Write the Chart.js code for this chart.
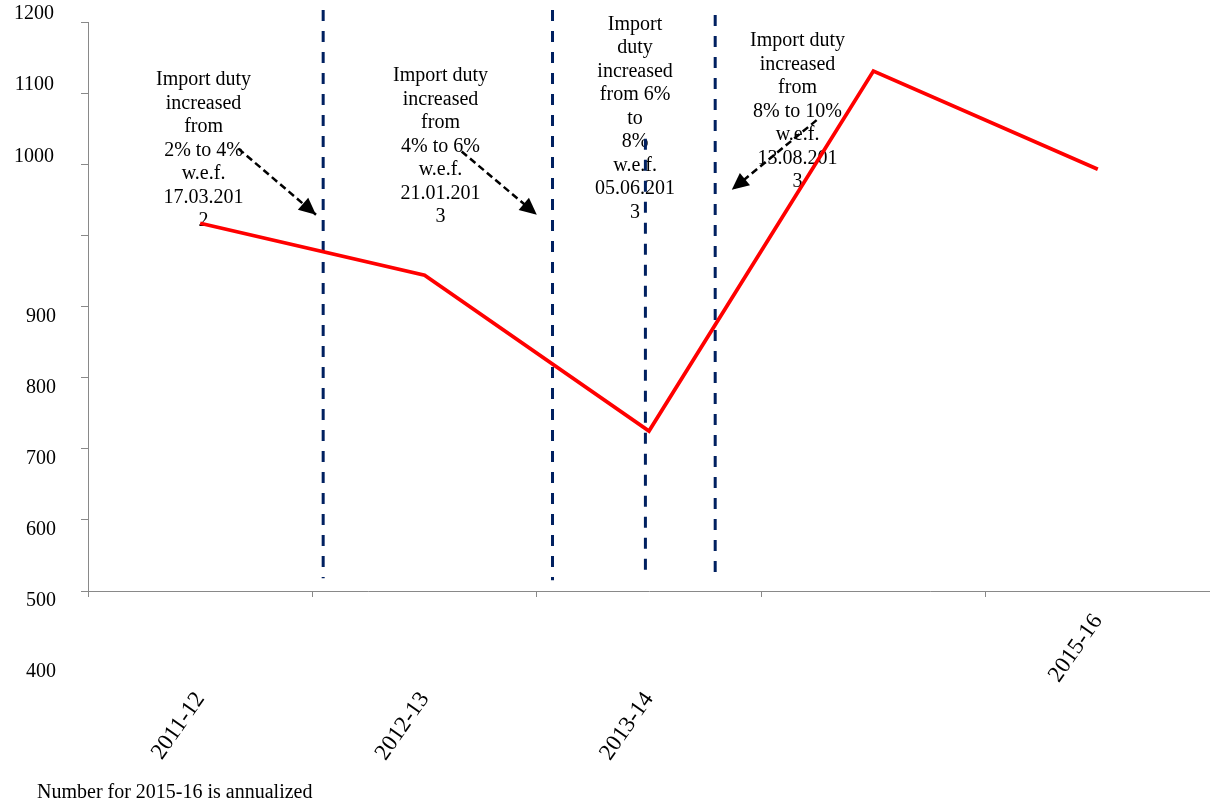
<!DOCTYPE html>
<html>
<head>
<meta charset="utf-8">
<script src="https://cdn.jsdelivr.net/npm/chart.js@4/dist/chart.umd.min.js"></script>
<style>
  html, body { margin: 0; padding: 0; background: #ffffff; }
  #wrap { width: 1210px; height: 806px; }
</style>
</head>
<body>
<div id="wrap"><canvas id="c" width="1210" height="806"></canvas></div>
<script>
// ---------------- data ----------------
const categories = ['2011-12', '2012-13', '2013-14', '2014-15', '2015-16'];
const importValues = [1017, 944, 725, 1231, 1093];
const xTickLabels = ['2011-12', '2012-13', '2013-14', '', '2015-16'];
const xRaisedLabelIndex = [4];
const yTickValues = [400, 500, 600, 700, 800, 900, 1000, 1100, 1200, 1300];
const yTickLabels = ['400', '500', '600', '700', '800', '900', '', '1000', '1100', '1200'];
const yUpperStart = 1100;

// duty-change markers (x in category units, 0 = left edge of first category)
const eventX = [1.048, 2.07, 2.484, 2.795];
const eventTop = [1317, 1317, 1136, 1310];
const eventBottom = [518, 515, 520, 513];

const noteLines = [
  ['Import duty', 'increased', 'from', '2% to 4%', 'w.e.f.', '17.03.201', '2'],
  ['Import duty', 'increased', 'from', '4% to 6%', 'w.e.f.', '21.01.201', '3'],
  ['Import', 'duty', 'increased', 'from 6%', 'to', '8%', 'w.e.f.', '05.06.201', '3'],
  ['Import duty', 'increased', 'from', '8% to 10%', 'w.e.f.', '13.08.201', '3']
];
const noteX = [0.515, 1.571, 2.438, 3.162];
const noteY = [1211, 1217, 1289, 1266];

const arrowFromX = [0.670, 1.665, 3.247];
const arrowFromY = [1122, 1118, 1162];
const arrowToX = [1.016, 2.000, 2.869];
const arrowToY = [1029, 1029, 1064];

const footnote = 'Number for 2015-16 is annualized';

// ---------------- styles ----------------
const FONT = '"Liberation Serif", "Times New Roman", serif';
const GRAY = '#898989';
const NAVY = '#002060';

const datasets = [];
datasets.push({
  label: 'Imports',
  data: importValues,
  xAxisID: 'x', yAxisID: 'y',
  borderColor: '#FF0000', backgroundColor: '#FF0000',
  borderWidth: 3.75, pointRadius: 0, pointHoverRadius: 0,
  borderJoinStyle: 'miter', tension: 0, fill: false, clip: false
});
arrowFromX.forEach((_, i) => {
  datasets.push({
    label: 'arrow' + i,
    data: [{ x: arrowFromX[i], y: arrowFromY[i] }, { x: arrowToX[i], y: arrowToY[i] }],
    xAxisID: 'xl', yAxisID: 'y',
    borderColor: '#000000', borderWidth: 2.5, borderDash: [7, 4],
    pointRadius: 0, pointHoverRadius: 0, fill: false, clip: false
  });
});
eventX.forEach((_, i) => {
  datasets.push({
    label: 'event' + i,
    data: [{ x: eventX[i], y: eventTop[i] }, { x: eventX[i], y: eventBottom[i] }],
    xAxisID: 'xl', yAxisID: 'y',
    borderColor: NAVY, borderWidth: 3, borderDash: [11, 10],
    pointRadius: 0, pointHoverRadius: 0, fill: false, clip: false
  });
});

const notesPlugin = {
  id: 'notes',
  beforeDatasetsDraw(chart) {
    const xs = chart.scales.xl, ys = chart.scales.y, ctx = chart.ctx;
    ctx.save();
    ctx.font = '20px ' + FONT;
    ctx.fillStyle = '#000000';
    ctx.textAlign = 'center';
    ctx.textBaseline = 'alphabetic';
    noteLines.forEach((lines, i) => {
      const cx = xs.getPixelForValue(noteX[i]);
      const y0 = ys.getPixelForValue(noteY[i]);
      lines.forEach((t, k) => ctx.fillText(t, cx, y0 + k * 23.5));
    });
    ctx.restore();
  },
  afterDatasetsDraw(chart) {
    const xs = chart.scales.xl, ys = chart.scales.y, ctx = chart.ctx;
    ctx.save();
    ctx.fillStyle = '#000000';
    arrowFromX.forEach((_, i) => {
      const x1 = xs.getPixelForValue(arrowFromX[i]), y1 = ys.getPixelForValue(arrowFromY[i]);
      const x2 = xs.getPixelForValue(arrowToX[i]), y2 = ys.getPixelForValue(arrowToY[i]);
      const a = Math.atan2(y2 - y1, x2 - x1);
      const len = 17, half = 8;
      const bx = x2 - len * Math.cos(a), by = y2 - len * Math.sin(a);
      ctx.beginPath();
      ctx.moveTo(x2, y2);
      ctx.lineTo(bx + half * Math.sin(a), by - half * Math.cos(a));
      ctx.lineTo(bx - half * Math.sin(a), by + half * Math.cos(a));
      ctx.closePath();
      ctx.fill();
    });
    ctx.restore();
  },
  afterDraw(chart) {
    // tick labels that fall outside the plotted range (drawn like the yLow labels)
    const ys = chart.scales.y, lab = chart.scales.yLow, xs = chart.scales.xl, ctx = chart.ctx;
    const o = lab.options;
    ctx.save();
    ctx.font = '20px ' + FONT;
    ctx.fillStyle = '#000000';
    ctx.textAlign = 'right';
    ctx.textBaseline = 'middle';
    yTickValues.forEach((v, k) => {
      if (v < ys.min || v > ys.max) {
        ctx.fillText(yTickLabels[k], xs.getPixelForValue(o.position.xl),
          ys.getPixelForValue(v) + o.ticks.labelOffset);
      }
    });
    ctx.restore();
  }
};

const yFont = { family: FONT, size: 20, weight: 'normal' };
const xFont = { family: FONT, size: 23, weight: 'normal' };
const noPad = (s) => { s.paddingTop = 0; s.paddingBottom = 0; s.paddingLeft = 0; s.paddingRight = 0; };

new Chart(document.getElementById('c'), {
  type: 'line',
  data: { labels: categories, datasets: datasets },
  plugins: [notesPlugin],
  options: {
    responsive: false,
    animation: false,
    devicePixelRatio: 1,
    layout: { padding: { left: 37, top: 22, right: 0, bottom: 0 } },
    plugins: {
      legend: { display: false },
      tooltip: { enabled: false },
      title: {
        display: true, text: footnote, position: 'bottom', align: 'start',
        color: '#000000', font: { family: FONT, size: 20, weight: 'normal' },
        padding: { top: 1, bottom: 1 }
      }
    },
    scales: {
      x: {
        type: 'category', axis: 'x', position: 'bottom', offset: true,
        grid: { display: true, drawOnChartArea: false, drawTicks: true, tickLength: 6, offset: true, color: GRAY, lineWidth: 1 },
        border: { display: true, color: GRAY, width: 1 },
        ticks: {
          autoSkip: false, minRotation: 55, maxRotation: 55, padding: 12, color: '#000000', font: xFont,
          callback: (v, i) => xRaisedLabelIndex.includes(i) ? xTickLabels[i] : ''
        },
        afterFit: (s) => { s.height = 189; noPad(s); }
      },
      x2: {
        type: 'category', axis: 'x', position: { y: 500 }, offset: true,
        grid: { display: false, drawTicks: false },
        border: { display: false },
        ticks: {
          autoSkip: false, minRotation: 55, maxRotation: 55, padding: 96, color: '#000000', font: xFont,
          callback: (v, i) => xRaisedLabelIndex.includes(i) ? '' : xTickLabels[i]
        },
        afterFit: (s) => { s.height = 0; noPad(s); }
      },
      xl: { type: 'linear', axis: 'x', display: false, min: 0, max: categories.length },
      y: {
        type: 'linear', axis: 'y', position: 'left', min: 500, max: 1300,
        grid: { display: true, drawOnChartArea: false, drawTicks: true, tickLength: 7, color: GRAY, lineWidth: 1 },
        border: { display: true, color: GRAY, width: 1 },
        ticks: { stepSize: 100, display: false },
        afterFit: (s) => { s.width = 51; noPad(s); }
      },
      yLow: {
        type: 'linear', axis: 'y', position: { xl: -0.1426 }, min: 500, max: 1300,
        grid: { display: false, drawTicks: false },
        border: { display: false },
        ticks: {
          stepSize: 100, padding: 0, labelOffset: 10, color: '#000000', font: yFont,
          callback: (v) => { const k = yTickValues.indexOf(v); return (k >= 0 && v < yUpperStart) ? yTickLabels[k] : ''; }
        },
        afterFit: (s) => { s.width = 0; noPad(s); }
      },
      yHigh: {
        type: 'linear', axis: 'y', position: { xl: -0.1515 }, min: 500, max: 1300,
        grid: { display: false, drawTicks: false },
        border: { display: false },
        ticks: {
          stepSize: 100, padding: 0, labelOffset: -8, color: '#000000', font: yFont,
          callback: (v) => { const k = yTickValues.indexOf(v); return (k >= 0 && v >= yUpperStart) ? yTickLabels[k] : ''; }
        },
        afterFit: (s) => { s.width = 0; noPad(s); }
      }
    }
  }
});
</script>
</body>
</html>
